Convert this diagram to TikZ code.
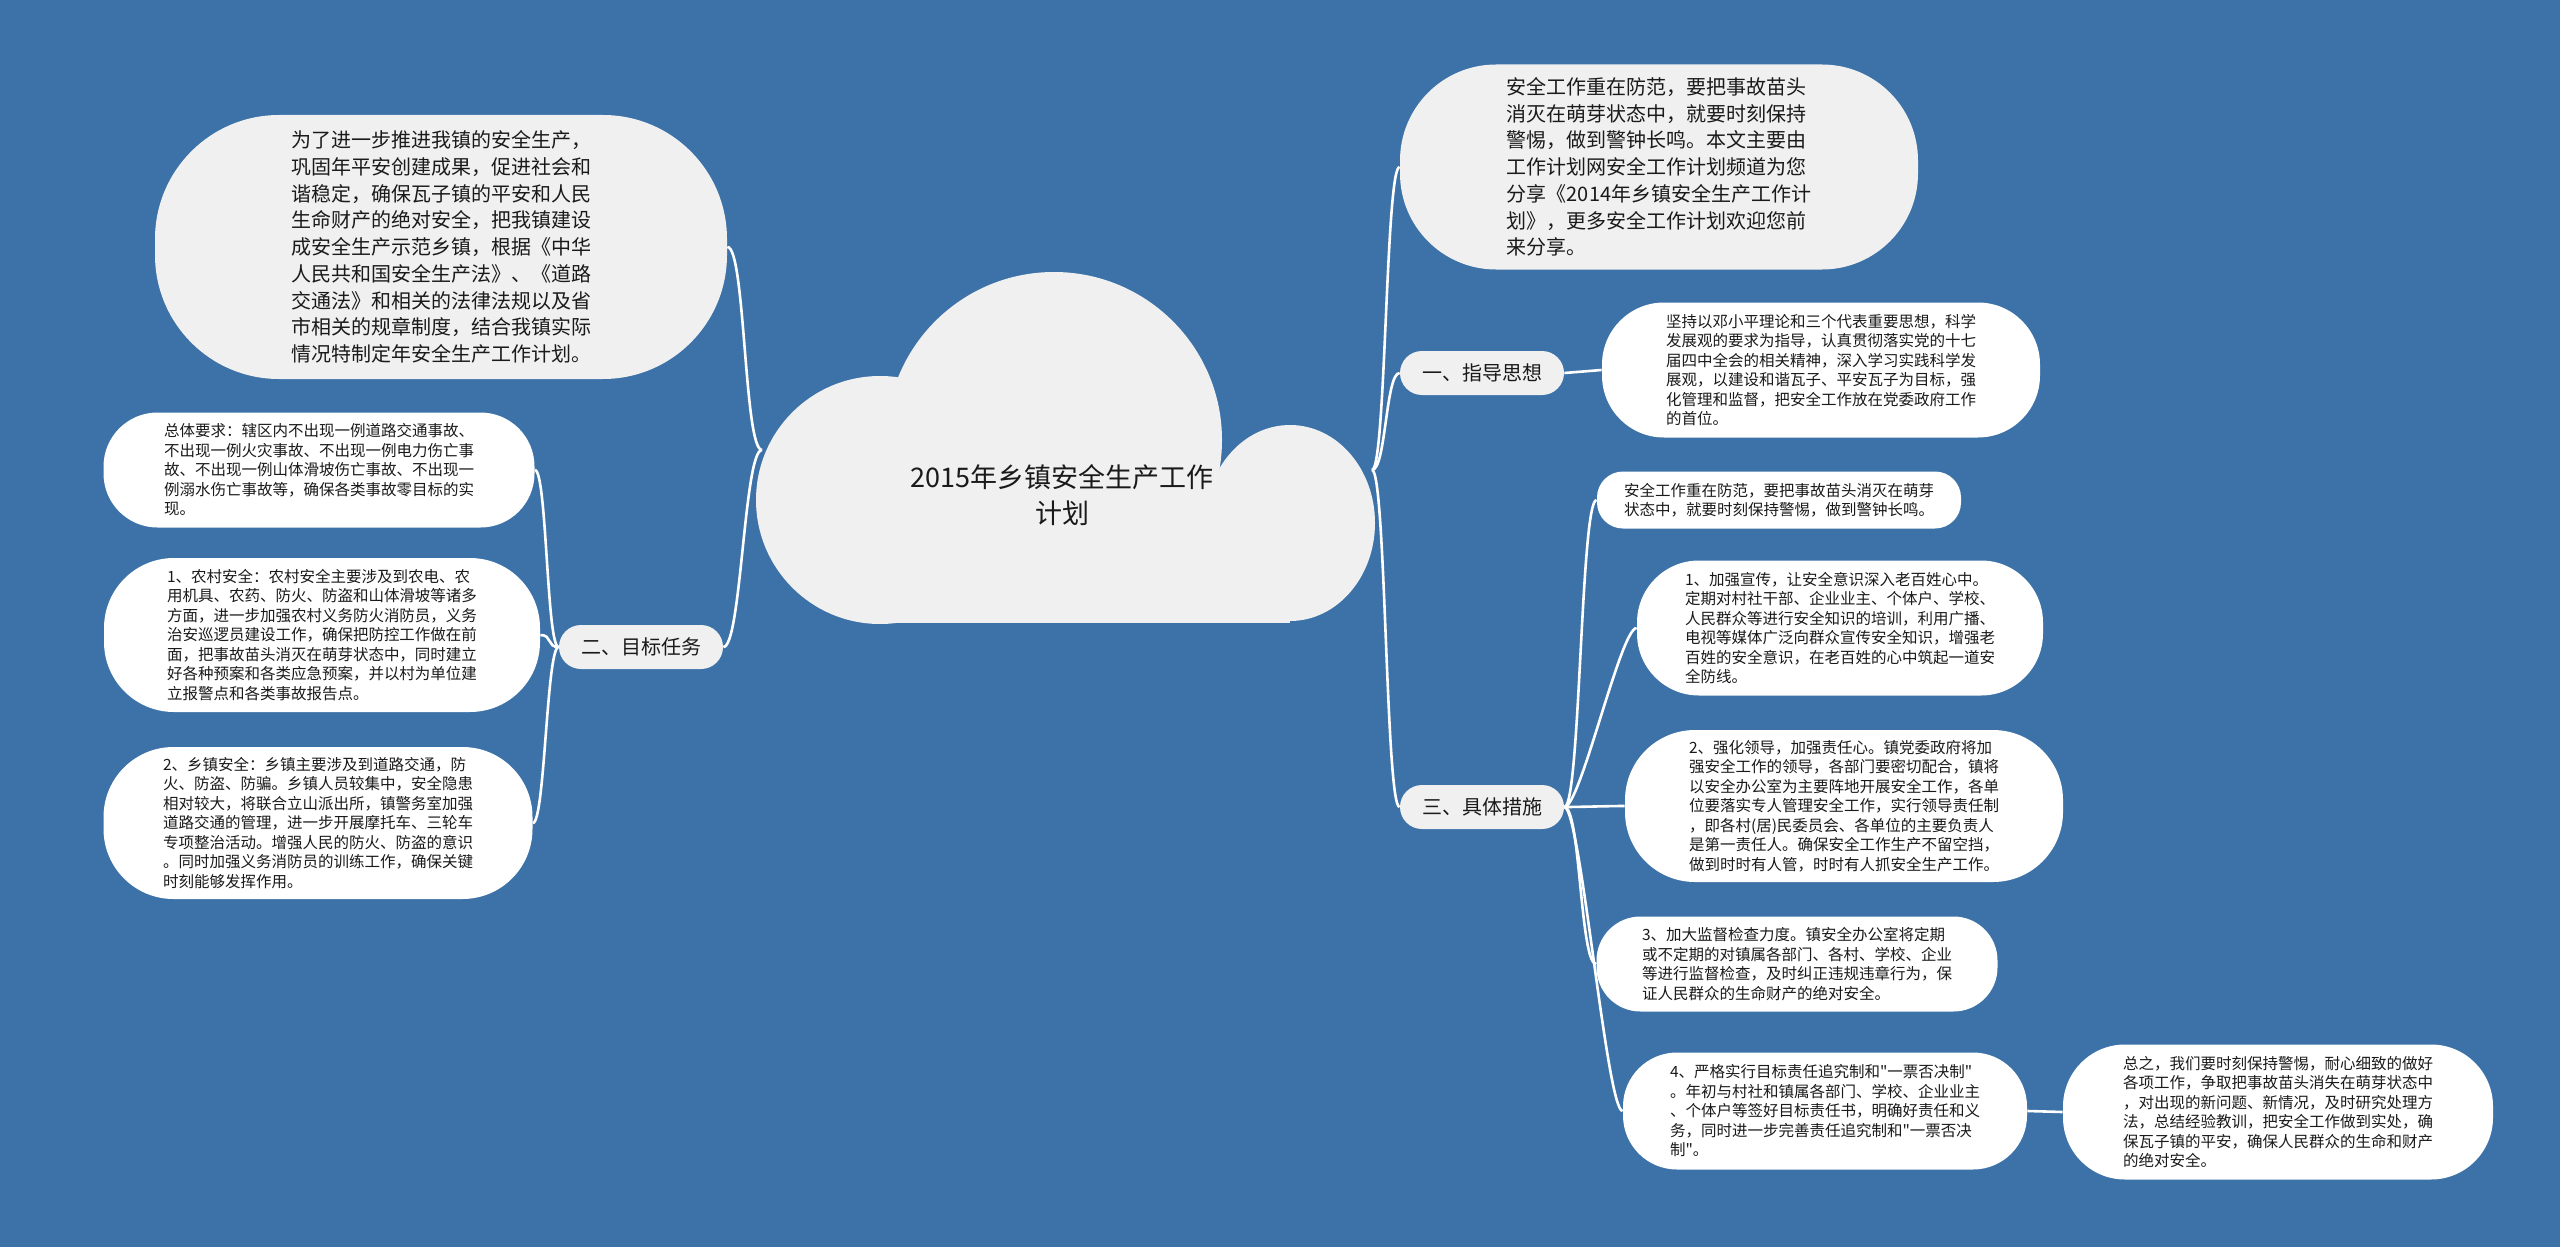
\documentclass[tikz,border=0pt]{standalone}
\usepackage{fontspec}
\setmainfont{Noto Sans CJK SC}[Ligatures=TeXOff]
\definecolor{bg}{HTML}{3C72A8}
\definecolor{bubgray}{HTML}{F0F0F0}
\definecolor{txt}{HTML}{1A1A1A}
\newcommand\leaffont{\fontsize{7.75pt}{9.75pt}\selectfont}
\newcommand\bigfont{\fontsize{10pt}{13.35pt}\selectfont}
\newcommand\labfont{\fontsize{10pt}{12pt}\selectfont}
\newcommand\titlefont{\fontsize{13.5pt}{18pt}\selectfont}
\tikzset{
  leaf/.style={fill=white, text=txt, align=left, inner sep=0pt, font=\leaffont},
  graybub/.style={fill=bubgray, text=txt, align=left, inner sep=0pt, font=\bigfont},
  lab/.style={fill=bubgray, text=txt, rounded corners=11pt, font=\labfont,
    minimum width=82pt, minimum height=22pt, inner sep=0pt},
  conn/.style={draw=white, line width=1.3pt},
}
\begin{document}
\begin{tikzpicture}[x=0.5pt,y=-0.5pt]
\fill[bg] (0,0) rectangle (2560,1247);
\useasboundingbox (0,0) rectangle (2560,1247);

% cloud
\fill[bubgray] (880,500) circle[radius=62pt];
\fill[bubgray] (1054,440) circle[radius=84pt];
\fill[bubgray] (1290,523) ellipse[x radius=42.5pt, y radius=49pt];
\fill[bubgray] (880,470) rectangle (1290,623);
\node[font=\titlefont, align=center, text=txt] (title) at (1062,495) {2015年乡镇安全生产工作\\计划};
\coordinate (cl) at (762,450);
\coordinate (cr) at (1372,470);

% left side
\node[graybub, minimum width=286pt, minimum height=132pt, rounded corners=62pt] (tl) at (441,247) {为了进一步推进我镇的安全生产，\\巩固年平安创建成果，促进社会和\\谐稳定，确保瓦子镇的平安和人民\\生命财产的绝对安全，把我镇建设\\成安全生产示范乡镇，根据《中华\\人民共和国安全生产法》、《道路\\交通法》和相关的法律法规以及省\\市相关的规章制度，结合我镇实际\\情况特制定年安全生产工作计划。};

\node[lab] (lab2) at (641,647) {二、目标任务};

\node[leaf, minimum width=215.5pt, minimum height=57.5pt, rounded corners=27pt] (L1) at (319,470) {总体要求：辖区内不出现一例道路交通事故、\\不出现一例火灾事故、不出现一例电力伤亡事\\故、不出现一例山体滑坡伤亡事故、不出现一\\例溺水伤亡事故等，确保各类事故零目标的实\\现。};

\node[leaf, minimum width=218pt, minimum height=77pt, rounded corners=35pt] (L2) at (322,635) {1、农村安全：农村安全主要涉及到农电、农\\用机具、农药、防火、防盗和山体滑坡等诸多\\方面，进一步加强农村义务防火消防员，义务\\治安巡逻员建设工作，确保把防控工作做在前\\面，把事故苗头消灭在萌芽状态中，同时建立\\好各种预案和各类应急预案，并以村为单位建\\立报警点和各类事故报告点。};

\node[leaf, minimum width=214.5pt, minimum height=76pt, rounded corners=35pt] (L3) at (318,823) {2、乡镇安全：乡镇主要涉及到道路交通，防\\火、防盗、防骗。乡镇人员较集中，安全隐患\\相对较大，将联合立山派出所，镇警务室加强\\道路交通的管理，进一步开展摩托车、三轮车\\专项整治活动。增强人民的防火、防盗的意识\\。同时加强义务消防员的训练工作，确保关键\\时刻能够发挥作用。};

% right side
\node[graybub, minimum width=259pt, minimum height=102.5pt, rounded corners=48pt] (tr) at (1659,167) {安全工作重在防范，要把事故苗头\\消灭在萌芽状态中，就要时刻保持\\警惕，做到警钟长鸣。本文主要由\\工作计划网安全工作计划频道为您\\分享《2014年乡镇安全生产工作计\\划》，更多安全工作计划欢迎您前\\来分享。};

\node[lab] (lab1) at (1482,373) {一、指导思想};
\node[lab] (lab3) at (1482,807) {三、具体措施};

\node[leaf, minimum width=219pt, minimum height=67.5pt, rounded corners=31pt] (R1) at (1821,370) {坚持以邓小平理论和三个代表重要思想，科学\\发展观的要求为指导，认真贯彻落实党的十七\\届四中全会的相关精神，深入学习实践科学发\\展观，以建设和谐瓦子、平安瓦子为目标，强\\化管理和监督，把安全工作放在党委政府工作\\的首位。};

\node[leaf, minimum width=182pt, minimum height=28.5pt, rounded corners=13pt] (R2) at (1779,500) {安全工作重在防范，要把事故苗头消灭在萌芽\\状态中，就要时刻保持警惕，做到警钟长鸣。};

\node[leaf, minimum width=203pt, minimum height=67.5pt, rounded corners=31pt] (R3) at (1840,628) {1、加强宣传，让安全意识深入老百姓心中。\\定期对村社干部、企业业主、个体户、学校、\\人民群众等进行安全知识的培训，利用广播、\\电视等媒体广泛向群众宣传安全知识，增强老\\百姓的安全意识，在老百姓的心中筑起一道安\\全防线。};

\node[leaf, minimum width=219pt, minimum height=76pt, rounded corners=35pt] (R4) at (1844,806) {2、强化领导，加强责任心。镇党委政府将加\\强安全工作的领导，各部门要密切配合，镇将\\以安全办公室为主要阵地开展安全工作，各单\\位要落实专人管理安全工作，实行领导责任制\\，即各村(居)民委员会、各单位的主要负责人\\是第一责任人。确保安全工作生产不留空挡，\\做到时时有人管，时时有人抓安全生产工作。};

\node[leaf, minimum width=200.5pt, minimum height=47.5pt, rounded corners=22pt] (R5) at (1797,964) {3、加大监督检查力度。镇安全办公室将定期\\或不定期的对镇属各部门、各村、学校、企业\\等进行监督检查，及时纠正违规违章行为，保\\证人民群众的生命财产的绝对安全。};

\node[leaf, minimum width=202pt, minimum height=58.5pt, rounded corners=27pt] (R6) at (1825,1111) {4、严格实行目标责任追究制和"一票否决制"\\。年初与村社和镇属各部门、学校、企业业主\\、个体户等签好目标责任书，明确好责任和义\\务，同时进一步完善责任追究制和"一票否决\\制"。};

\node[leaf, minimum width=215pt, minimum height=67.5pt, rounded corners=31pt] (R7) at (2278,1112) {总之，我们要时刻保持警惕，耐心细致的做好\\各项工作，争取把事故苗头消失在萌芽状态中\\，对出现的新问题、新情况，及时研究处理方\\法，总结经验教训，把安全工作做到实处，确\\保瓦子镇的平安，确保人民群众的生命和财产\\的绝对安全。};

% connectors
\draw[conn] (cl) .. controls +(-18,0) and +(18,0) .. (tl.east);
\draw[conn] (cl) .. controls +(-18,0) and +(18,0) .. (lab2.east);
\draw[conn] (lab2.west) .. controls +(-12,0) and +(12,0) .. (L1.east);
\draw[conn] (lab2.west) .. controls +(-12,0) and +(12,0) .. (L2.east);
\draw[conn] (lab2.west) .. controls +(-12,0) and +(12,0) .. (L3.east);
\draw[conn] (cr) .. controls +(14,0) and +(-14,0) .. (tr.west);
\draw[conn] (cr) .. controls +(14,0) and +(-14,0) .. (lab1.west);
\draw[conn] (cr) .. controls +(14,0) and +(-14,0) .. (lab3.west);
\draw[conn] (lab1.east) -- (R1.west);
\draw[conn] (lab3.east) .. controls +(16,0) and +(-16,0) .. (R2.west);
\draw[conn] (lab3.east) .. controls +(16,0) and +(-16,0) .. (R3.west);
\draw[conn] (lab3.east) .. controls +(16,0) and +(-16,0) .. (R4.west);
\draw[conn] (lab3.east) .. controls +(16,0) and +(-16,0) .. (R5.west);
\draw[conn] (lab3.east) .. controls +(16,0) and +(-16,0) .. (R6.west);
\draw[conn] (R6.east) -- (R7.west);
\end{tikzpicture}
\end{document}
